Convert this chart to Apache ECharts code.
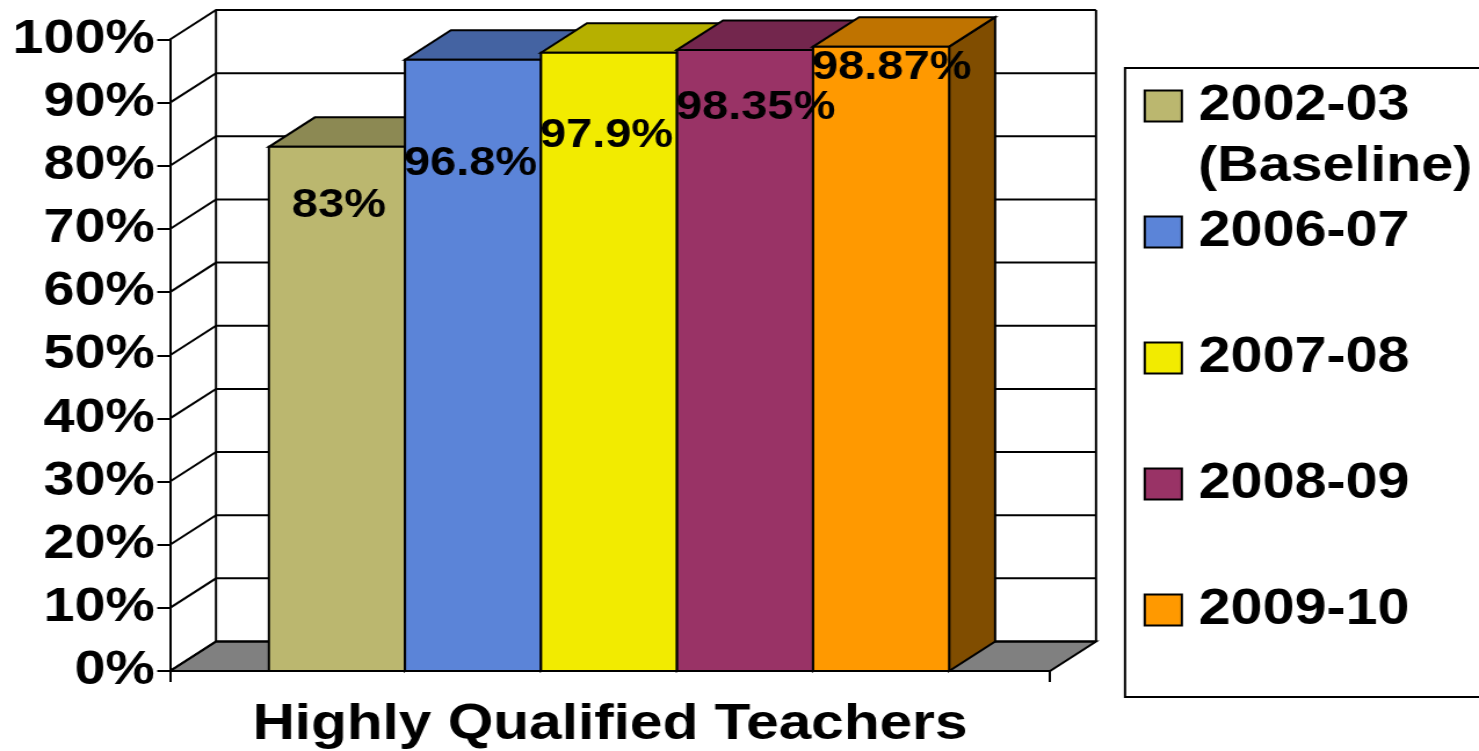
<!DOCTYPE html>
<html>
<head>
<meta charset="utf-8">
<title>Highly Qualified Teachers</title>
<script src="https://cdn.jsdelivr.net/npm/echarts@6/dist/echarts.min.js"></script>
<style>
html, body { margin: 0; padding: 0; background: #fff; overflow: hidden; }
/* the reference is a slide chart stretched sideways, so the whole canvas is too */
#chart { width: 1275px; height: 751px; transform: scaleX(1.16); transform-origin: 0 0; }
</style>
</head>
<body>
<div id="chart"></div>
<script>
var categories = ['Highly Qualified Teachers']
var seriesNames = ['2002-03\n(Baseline)', '2006-07', '2007-08', '2008-09', '2009-10']
var seriesValues = [83, 96.8, 97.9, 98.35, 98.87]
var seriesColors = ['#BBB76F', '#5B84D8', '#F2EB00', '#993366', '#FF9900']
var tickValues = [0, 10, 20, 30, 40, 50, 60, 70, 80, 90, 100]

// where the slide put each value label: drop below bar top, shift from bar left
var labelDrop = [59, 104, 83, 58, 21]
var labelShift = [23, -1, -1, -1, -1]

var SX = 1.16
var FONT = '"Liberation Sans", Arial, sans-serif'
var DEPTH_X = 46 / SX
var DEPTH_Y = -29.5
var BAR_NUDGE = -1 / SX
var LINE = { stroke: '#000', lineWidth: 2, fill: null }

function shade(color, k) {
  var c = echarts.color.parse(color)
  return 'rgb(' + Math.round(c[0] * k) + ',' + Math.round(c[1] * k) + ',' + Math.round(c[2] * k) + ')'
}

function renderWall(params, api) {
  var box = params.coordSys
  var y = api.coord([0, api.value(1)])[1]
  var left = box.x
  var right = box.x + box.width
  var children = []
  if (api.value(1) === 0) {
    children.push({
      type: 'polygon',
      shape: { points: [[left, y], [left + DEPTH_X, y + DEPTH_Y], [right + DEPTH_X, y + DEPTH_Y], [right, y]] },
      style: { fill: '#808080', stroke: '#000', lineWidth: 2 }
    })
    var topY = api.coord([0, 100])[1]
    children.push({ type: 'line', shape: { x1: left + DEPTH_X, y1: y + DEPTH_Y, x2: left + DEPTH_X, y2: topY + DEPTH_Y }, style: LINE })
    children.push({ type: 'line', shape: { x1: right + DEPTH_X, y1: y + DEPTH_Y, x2: right + DEPTH_X, y2: topY + DEPTH_Y }, style: LINE })
  }
  children.push({
    type: 'polyline',
    shape: { points: [[left, y], [left + DEPTH_X, y + DEPTH_Y], [right + DEPTH_X, y + DEPTH_Y]] },
    style: LINE
  })
  return { type: 'group', children: children }
}

function makeBarRenderer(index) {
  return function(params, api) {
    var layout = api.barLayout({ count: seriesNames.length, barGap: '0%', barCategoryGap: '22.7%' })[index]
    var top = api.coord([api.value(0), api.value(1)])
    var base = api.coord([api.value(0), 0])
    var x0 = top[0] + layout.offset + BAR_NUDGE
    var x1 = x0 + layout.width
    var color = seriesColors[index]
    var border = { stroke: '#000', lineWidth: 2 }
    return {
      type: 'group',
      children: [
        {
          type: 'polygon',
          shape: { points: [[x1, top[1]], [x1 + DEPTH_X, top[1] + DEPTH_Y], [x1 + DEPTH_X, base[1] + DEPTH_Y], [x1, base[1]]] },
          style: Object.assign({ fill: shade(color, 0.5) }, border)
        },
        {
          type: 'polygon',
          shape: { points: [[x0, top[1]], [x0 + DEPTH_X, top[1] + DEPTH_Y], [x1 + DEPTH_X, top[1] + DEPTH_Y], [x1, top[1]]] },
          style: Object.assign({ fill: shade(color, 0.75) }, border)
        },
        {
          type: 'rect',
          shape: { x: x0, y: top[1], width: layout.width, height: base[1] - top[1] },
          style: Object.assign({ fill: color }, border)
        },
        {
          type: 'text',
          z2: 50,
          x: x0 + labelShift[index] / SX,
          y: top[1] + labelDrop[index],
          style: {
            text: api.value(1) + '%',
            font: 'bold 40.5px ' + FONT,
            fill: '#000',
            align: 'left',
            verticalAlign: 'middle'
          }
        }
      ]
    }
  }
}

var series = [{
  type: 'custom',
  name: 'walls',
  silent: true,
  z: 1,
  renderItem: renderWall,
  encode: { x: 0, y: 1 },
  data: tickValues.map(function(t) { return [0, t] })
}]
seriesNames.forEach(function(name, i) {
  series.push({
    type: 'custom',
    name: name,
    silent: true,
    z: 2,
    renderItem: makeBarRenderer(i),
    itemStyle: { color: seriesColors[i] },
    encode: { x: 0, y: 1 },
    data: [[0, seriesValues[i]]]
  })
})

var chart = echarts.init(document.getElementById('chart'))
chart.setOption({
  animation: false,
  backgroundColor: '#fff',
  grid: { left: 170 / SX, width: 880 / SX, top: 39.5, height: 634 },
  xAxis: {
    type: 'category',
    data: categories,
    z: 3,
    axisLine: { lineStyle: { color: '#000', width: 2 } },
    axisTick: { show: true, alignWithLabel: false, length: 11, lineStyle: { color: '#000', width: 2 } },
    axisLabel: { margin: 29, color: '#000', fontFamily: FONT, fontWeight: 'bold', fontSize: 50.5 }
  },
  yAxis: {
    type: 'value',
    min: 0,
    max: 100,
    interval: 10,
    z: 3,
    splitLine: { show: false },
    axisLine: { show: true, lineStyle: { color: '#000', width: 2 } },
    axisTick: { show: true, length: 11, lineStyle: { color: '#000', width: 2 } },
    axisLabel: { margin: 13, padding: [5, 0, 0, 0], formatter: '{value}%', color: '#000', fontFamily: FONT, fontWeight: 'bold', fontSize: 48 }
  },
  legend: {
    orient: 'vertical',
    left: 1125 / SX,
    top: 68,
    selectedMode: false,
    data: seriesNames,
    icon: 'rect',
    itemWidth: 32,
    itemHeight: 31,
    itemGap: 60,
    padding: [5, 90, 54, 16],
    borderColor: '#000',
    borderWidth: 2,
    itemStyle: { borderColor: '#000', borderWidth: 2 },
    formatter: function(name) { return name.split('\n')[0] },
    textStyle: { padding: [10, 0, 0, 9.5], lineHeight: 56, color: '#000', fontFamily: FONT, fontWeight: 'bold', fontSize: 49.5 }
  },
  // the legend centres an icon on its whole text, so the baseline note sits apart
  graphic: [{
    type: 'text',
    left: 1198 / SX,
    top: 142,
    style: { text: seriesNames[0].split('\n')[1], font: 'bold 49.5px ' + FONT, fill: '#000' }
  }],
  series: series
})
</script>
</body>
</html>
